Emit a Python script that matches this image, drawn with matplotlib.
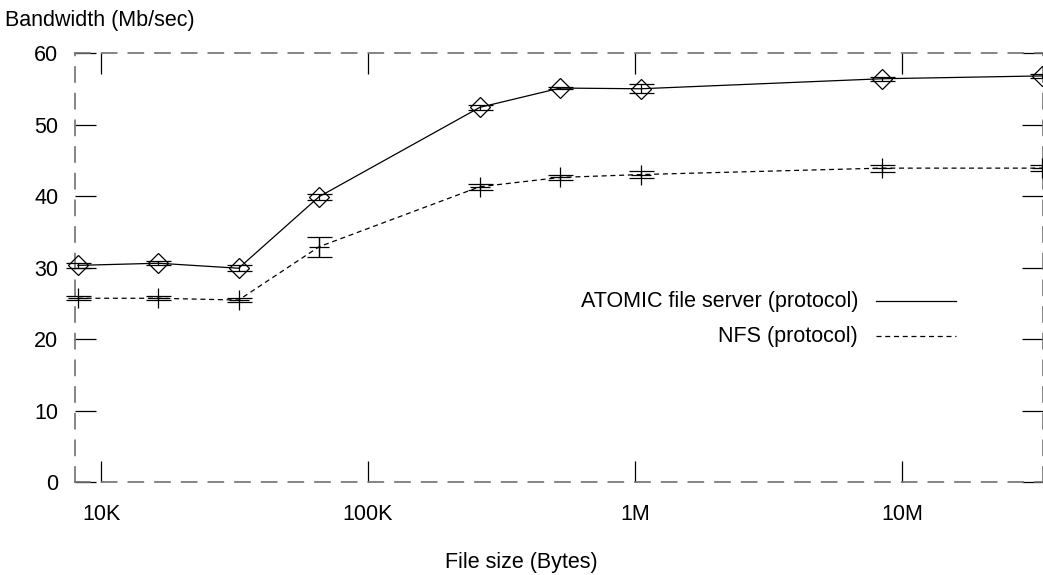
#!/usr/bin/env python3

import numpy as np
import matplotlib
matplotlib.use("Agg")
import matplotlib.pyplot as plt

# file sizes in bytes (powers of two)
sizes = [8192, 16384, 32768, 65536, 262144, 524288, 1048576, 8388608, 33554432]

atomic = [30.3, 30.6, 29.9, 39.9, 52.4, 55.1, 55.0, 56.4, 56.8]
atomic_err = [0.3, 0.3, 0.4, 0.4, 0.3, 0.2, 0.6, 0.3, 0.3]

nfs = [25.7, 25.7, 25.45, 32.9, 41.3, 42.6, 43.0, 43.9, 43.9]
nfs_err = [0.3, 0.3, 0.3, 1.4, 0.4, 0.4, 0.5, 0.5, 0.4]

xticks = [1e4, 1e5, 1e6, 1e7]
xtick_labels = ["10K", "100K", "1M", "10M"]
yticks = [0, 10, 20, 30, 40, 50, 60]

legend_labels = ["ATOMIC file server (protocol)", "NFS (protocol)"]


def main():
    plt.rcParams["font.family"] = ["Liberation Sans", "DejaVu Sans"]
    fs = 15.5

    fig = plt.figure(figsize=(10.43, 5.75), dpi=100)
    ax = fig.add_axes([0.0719, 0.1617, 0.9281, 0.7461])

    # ATOMIC: solid line, diamonds
    ax.plot(sizes, atomic, color="black", lw=0.9, clip_on=False, zorder=3)
    ax.errorbar(sizes, atomic, yerr=atomic_err, fmt="D", mfc="none", mec="black",
                ms=10.5, mew=0.9, ecolor="black", elinewidth=0.9, capsize=9,
                capthick=0.9, clip_on=False, zorder=4)
    # NFS: dashed line, plus
    ax.plot(sizes, nfs, color="black", lw=0.9, ls=(0, (4, 3)), clip_on=False, zorder=3)
    ax.errorbar(sizes, nfs, yerr=nfs_err, fmt="+", mec="black", ms=14, mew=0.9,
                ecolor="black", elinewidth=0.9, capsize=9, capthick=0.9,
                clip_on=False, zorder=4)

    ax.set_xscale("log")
    ax.set_xlim(7990, 3.37e7)
    ax.set_ylim(0, 60)

    ax.set_xticks(xticks)
    ax.set_xticklabels(xtick_labels)
    ax.xaxis.set_minor_locator(matplotlib.ticker.NullLocator())
    ax.set_yticks(yticks)

    ax.tick_params(axis="both", which="major", direction="in", length=15,
                   width=0.9, color="black", top=True, right=True, labelsize=fs)
    ax.tick_params(axis="x", pad=16)
    ax.tick_params(axis="y", pad=12)

    # dashed gray border
    for side in ax.spines.values():
        side.set_color("#707070")
        side.set_linewidth(1.2)
        side.set_linestyle((0, (9, 7)))

    fig.text(0.005, 0.965, "Bandwidth (Mb/sec)", ha="left", va="center", fontsize=fs)
    fig.text(0.5, 0.022, "File size (Bytes)", ha="center", va="center", fontsize=fs)

    # legend drawn by hand, text to the left of the line sample
    styles = ["-", (0, (4, 3))]
    for i in range(2):
        y = 0.421 - i * 0.081
        ax.text(0.809, y, legend_labels[i], transform=ax.transAxes,
                ha="right", va="center", fontsize=fs)
        ax.plot([0.8275, 0.91], [y, y], transform=ax.transAxes, color="black",
                lw=0.9, ls=styles[i])

    fig.savefig("out.png", dpi=100)


if __name__ == "__main__":
    main()
